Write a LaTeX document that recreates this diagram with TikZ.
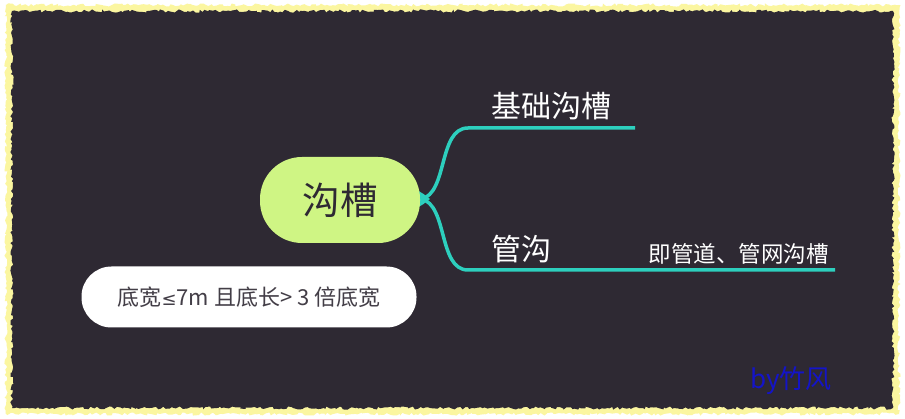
\documentclass[tikz,border=0pt]{standalone}
\usepackage{fontspec}
\setmainfont{Noto Sans CJK SC}
\newfontfamily\cjk{Noto Sans CJK SC}
\newfontfamily\symf{DejaVu Sans}
\usetikzlibrary{decorations.pathmorphing}
\definecolor{bgdark}{HTML}{2E2933}
\definecolor{glow}{HTML}{FBF6A0}
\definecolor{rootgreen}{HTML}{CFF584}
\definecolor{teal}{HTML}{2DCFBE}
\definecolor{sign}{HTML}{1414C8}
\tikzset{
  x=1pt,y=-1pt,
  rootnode/.style={draw=none,fill=rootgreen,rounded corners=42pt,minimum width=160pt,minimum height=86pt,text=bgdark,font=\cjk\fontsize{37.5}{40}\selectfont,inner sep=0pt},
  notenode/.style={draw=none,fill=white,rounded corners=30pt,minimum width=335pt,minimum height=61pt,text=bgdark!90,font=\cjk\fontsize{22}{24}\selectfont,inner sep=0pt},
  branchlabel/.style={text=white,font=\cjk\fontsize{30}{32}\selectfont,inner sep=0pt},
  smalllabel/.style={text=white,font=\cjk\fontsize{22.5}{24}\selectfont,inner sep=0pt},
  branch/.style={draw=teal,line width=3.5pt},
  jag/.style={decorate,decoration={random steps,segment length=2.5pt,amplitude=1.6pt}}
}
\begin{document}
\begin{tikzpicture}
\useasboundingbox (0,0) rectangle (905,419);
\fill[white] (0,0) rectangle (905,419);
\fill[glow,jag] (6,5) rectangle (899,414);
\fill[bgdark,jag] (12,11) rectangle (893,408);
% branches
\coordinate (j) at (421,199);
\coordinate (t1) at (468,128);
\coordinate (e1) at (635,128);
\coordinate (t2) at (468,270);
\coordinate (e2) at (835,270);
\fill[teal] (414,189) .. controls (422,192) and (426,196) .. (430,199) .. controls (426,202) and (422,206) .. (414,209) -- cycle;
\draw[branch] (j) .. controls (448,194) and (438,128) .. (t1) -- (e1);
\draw[branch] (j) .. controls (448,204) and (438,270) .. (t2) -- (e2);
% root
\node[rootnode] (root) at (340,200) {沟槽};
\node[branchlabel,anchor=west] (b1) at (491,106) {基础沟槽};
\node[branchlabel,anchor=west] (b2) at (491,249) {管沟};
\node[smalllabel,anchor=east] (b2n) at (829,254) {即管道、管网沟槽};
% note
\node[notenode] (note) at (249,297) {底宽{\symf\fontsize{18}{20}\selectfont ≤}7m 且底长> 3 倍底宽};
% signature
\node[text=sign,font=\cjk\fontsize{26}{28}\selectfont,inner sep=0pt] (sig) at (791,381) {by竹风};
\end{tikzpicture}
\end{document}
